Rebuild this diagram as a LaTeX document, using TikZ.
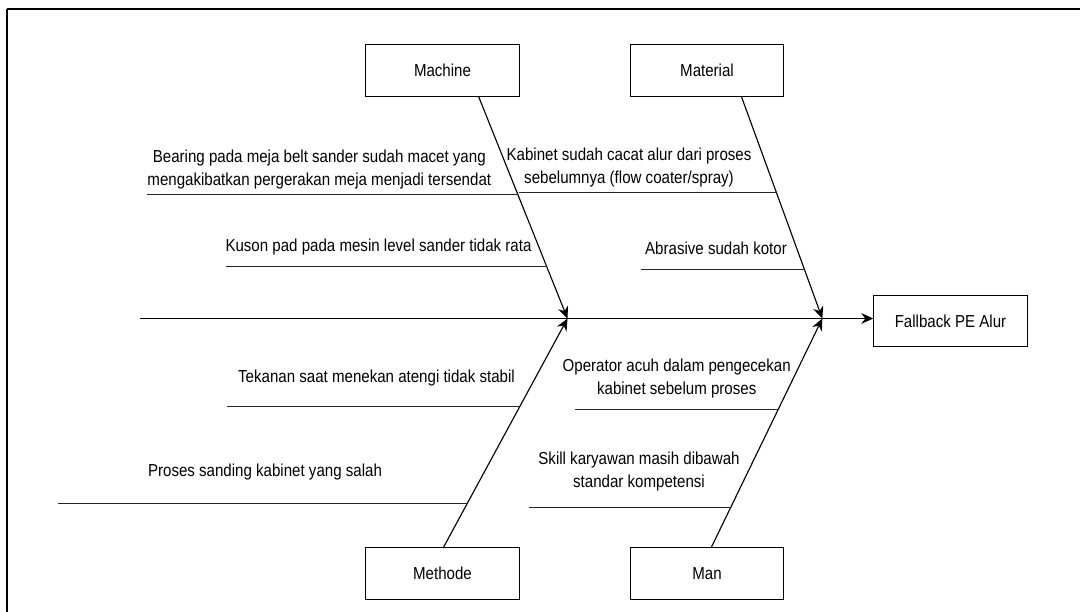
\documentclass[tikz,border=0pt]{standalone}
\usepackage{fontspec}
\setmainfont{Liberation Sans}[FakeStretch=0.87]
\usetikzlibrary{arrows.meta}
\begin{document}
\begin{tikzpicture}[x=0.75pt,y=-0.75pt,
  catbox/.style={draw,line width=0.8pt,minimum width=115pt,minimum height=39pt,inner sep=0pt,font=\fontsize{13pt}{15pt}\selectfont},
  cause/.style={align=center,inner sep=0pt,font=\fontsize{13pt}{17pt}\selectfont},
  bone/.style={line width=0.85pt},
  sub/.style={line width=1.1pt,draw=black!85},
  arr/.style={-{Stealth[length=9pt,width=8pt,inset=3pt]}}]
\clip (0,0) rectangle (1080,611);
\fill[white] (0,0) rectangle (1080,611);
\draw[line width=2pt] (7,9) -- (1100,9);
\draw[line width=2pt] (7,9) -- (7,640);
% category boxes
\node[catbox] (machine) at (442.5,70.5) {Machine};
\node[catbox] (material) at (707,70.5) {Material};
\node[catbox] (methode) at (442.5,573.5) {Methode};
\node[catbox] (man) at (707,573.5) {Man};
\node[catbox,minimum height=38pt] (effect) at (950.5,321) {Fallback PE Alur};
% spine
\coordinate (tail) at (140,318.5);
\coordinate (j1) at (567.5,318.5);
\coordinate (j2) at (822.3,318.5);
\draw[bone,arr] (tail) -- (effect.west |- tail);
% branches
\coordinate (mach) at (478.6,96.5);
\coordinate (mate) at (741.4,96.5);
\coordinate (meth) at (443.1,548);
\coordinate (mann) at (711,548);
\draw[bone,arr] (mach) -- (j1);
\draw[bone,arr] (mate) -- (j2);
\draw[bone,arr] (meth) -- (j1);
\draw[bone,arr] (mann) -- (j2);
% sub causes
\coordinate (a1) at (147,194.3); \coordinate (a2) at (517.9,194.3);
\coordinate (b1) at (225.5,266.7); \coordinate (b2) at (546.8,266.7);
\coordinate (c1) at (519,192.7); \coordinate (c2) at (776.6,192.7);
\coordinate (d1) at (640.5,269.3); \coordinate (d2) at (804.4,269.3);
\coordinate (e1) at (227.2,406.7); \coordinate (e2) at (519.7,406.7);
\coordinate (f1) at (57.8,503.3); \coordinate (f2) at (467.3,503.3);
\coordinate (g1) at (575,409.3); \coordinate (g2) at (778.3,409.3);
\coordinate (h1) at (528.5,507.3); \coordinate (h2) at (730.7,507.3);
\foreach \p in {a,b,c,d,e,f,g,h} \draw[sub] (\p1) -- (\p2);
\node[cause] (ta) at (319.3,169.7) {Bearing pada meja belt sander sudah macet yang\\mengakibatkan pergerakan meja menjadi tersendat};
\node[cause] (tb) at (378.5,247) {Kuson pad pada mesin level sander tidak rata};
\node[cause] (tc) at (629,167.5) {Kabinet sudah cacat alur dari proses\\sebelumnya (flow coater/spray)};
\node[cause] (td) at (716,248.3) {Abrasive sudah kotor};
\node[cause] (te) at (376.5,378.3) {Tekanan saat menekan atengi tidak stabil};
\node[cause] (tf) at (265,472.3) {Proses sanding kabinet yang salah};
\node[cause] (tg) at (676.7,378.3) {Operator acuh dalam pengecekan\\kabinet sebelum proses};
\node[cause] (th) at (639,471.3) {Skill karyawan masih dibawah\\standar kompetensi};
\end{tikzpicture}
\end{document}
